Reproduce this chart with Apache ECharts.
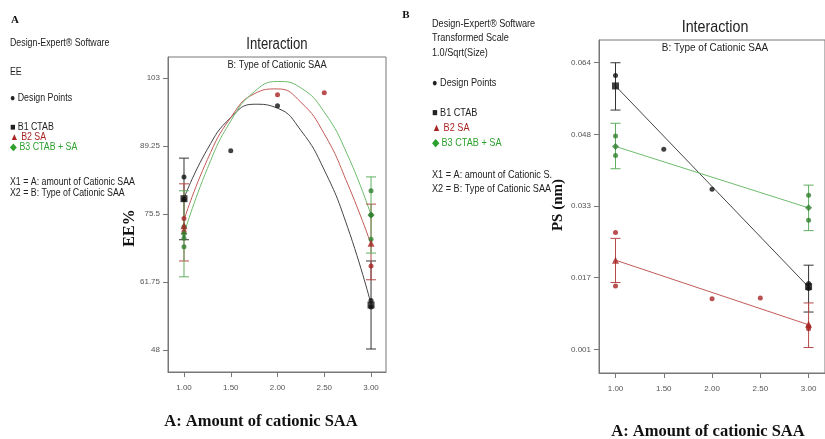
<!DOCTYPE html>
<html>
<head>
<meta charset="utf-8">
<title>Interaction plots</title>
<script src="https://cdn.jsdelivr.net/npm/echarts@6/dist/echarts.min.js"></script>
<style>
  html, body { margin: 0; padding: 0; background: #fff; }
  #chart { width: 825px; height: 439px; }
</style>
</head>
<body>
<div id="chart"></div>
<script>
// ---- data ----
const xTicks = [1, 1.5, 2, 2.5, 3];
const eeTicks = [48, 61.75, 75.5, 89.25, 103];
const psTicks = [0.001, 0.01675, 0.0325, 0.04825, 0.064];

// panel A (EE%) fitted curves, sampled at these x
const curveX = [1, 1.25, 1.5, 1.75, 2, 2.25, 2.5, 2.75, 3];
const eeCtabCurve = [78.7, 88.6, 95.0, 97.7, 96.9, 92.4, 84.4, 72.8, 57.3];
const eeSaCurve = [74.3, 86.5, 95.0, 99.8, 100.8, 98.1, 91.7, 81.6, 69.4];
const eeMixCurve = [71.5, 84.7, 94.3, 100.2, 102.3, 101.0, 96.1, 87.4, 75.3];

// panel A design points
const eeCtabPts = [[1, 83.0], [1, 78.5], [1.5, 88.3], [2, 97.4], [3, 58.0], [3, 56.7]];
const eeSaPts = [[1, 74.6], [1, 71.9], [2, 99.6], [2.5, 100.0], [3, 65.0]];
const eeMixPts = [[1, 72.9], [1, 70.6], [1, 68.9], [3, 80.2], [3, 75.3], [3, 70.4]];

// panel A predicted values and LSD bars [x, low, high]
const eeCtabPred = [[1, 78.6], [3, 57.1]];
const eeSaPred = [[1, 73.1], [3, 69.6]];
const eeMixPred = [[1, 71.5], [3, 75.3]];
const eeCtabBars = [[1, 70.3, 86.8], [3, 48.2, 66.0]];
const eeSaBars = [[1, 66.0, 81.6], [3, 62.2, 77.5]];
const eeMixBars = [[1, 62.8, 80.2], [3, 67.6, 83.0]];

// panel B (PS) fitted lines
const psLineX = [1, 3];
const psCtabLine = [0.0589, 0.0147];
const psSaLine = [0.0206, 0.0064];
const psMixLine = [0.0456, 0.0321];

// panel B design points
const psCtabPts = [[1, 0.0612], [1.5, 0.0450], [2, 0.0362], [3, 0.0155], [3, 0.0144]];
const psSaPts = [[1, 0.0267], [1, 0.0149], [2, 0.0121], [2.5, 0.0123], [3, 0.0060], [3, 0.0055]];
const psMixPts = [[1, 0.0479], [1, 0.0436], [3, 0.0349], [3, 0.0294]];

const psCtabPred = [[1, 0.0589], [3, 0.0148]];
const psSaPred = [[1, 0.0206], [3, 0.0065]];
const psMixPred = [[1, 0.0456], [3, 0.0321]];
const psCtabBars = [[1, 0.0536, 0.0640], [3, 0.0092, 0.0195]];
const psSaBars = [[1, 0.0157, 0.0254], [3, 0.0014, 0.0112]];
const psMixBars = [[1, 0.0407, 0.0507], [3, 0.0271, 0.0371]];

// ---- styles ----
const sans = "'Liberation Sans', Arial, sans-serif";
const serif = "'Liberation Serif', 'Times New Roman', serif";
const black = "#111111", red = "#a82424", green = "#2f7f2f";
const blackLine = "#444444", redLine = "#c05a57", greenLine = "#6dbb6d";
const blackBar = "#333333", redBar = "#b54a48", greenBar = "#5fae5f";

const chart = echarts.init(document.getElementById("chart"));

function errorBar(params, api) {
  const x = api.value(0);
  const top = api.coord([x, api.value(2)]);
  const bot = api.coord([x, api.value(1)]);
  const w = 5;
  const style = { stroke: api.visual("color"), lineWidth: 1 };
  return {
    type: "group",
    children: [
      { type: "line", shape: { x1: top[0], y1: top[1], x2: bot[0], y2: bot[1] }, style },
      { type: "line", shape: { x1: top[0] - w, y1: top[1], x2: top[0] + w, y2: top[1] }, style },
      { type: "line", shape: { x1: bot[0] - w, y1: bot[1], x2: bot[0] + w, y2: bot[1] }, style }
    ]
  };
}

function xAxis(idx, max) {
  return {
    type: "value", gridIndex: idx, min: 0.829, max: max,
    axisLine: { show: true, onZero: false, lineStyle: { color: "#777" } },
    axisTick: { show: true, length: 5, customValues: xTicks, lineStyle: { color: "#777" } },
    axisLabel: { customValues: xTicks, margin: 12, fontSize: 8, color: "#555", fontFamily: sans,
      formatter: v => v.toFixed(2) },
    splitLine: { show: false }
  };
}

function yAxis(idx, min, max, ticks, fmt) {
  return {
    type: "value", gridIndex: idx, min: min, max: max,
    axisLine: { show: true, onZero: false, lineStyle: { color: "#777" } },
    axisTick: { show: true, length: 5, customValues: ticks, lineStyle: { color: "#777" } },
    axisLabel: { customValues: ticks, margin: 8, fontSize: 8, color: "#555", fontFamily: sans,
      formatter: fmt },
    splitLine: { show: false }
  };
}

function pts(xs, ys) {
  return xs.map((x, i) => [x, ys[i]]);
}

function addPanel(series, idx, curves, points, preds, bars, smooth) {
  const colors = [black, red, green];
  const lineColors = [blackLine, redLine, greenLine];
  const barColors = [blackBar, redBar, greenBar];
  const shapes = ["rect", "triangle", "diamond"];
  for (let k = 0; k < 3; k++) {
    series.push({
      type: "line", xAxisIndex: idx, yAxisIndex: idx, data: curves[k], smooth: smooth,
      symbol: "none", lineStyle: { color: lineColors[k], width: 1 }, silent: true, z: 2
    });
    series.push({
      type: "custom", xAxisIndex: idx, yAxisIndex: idx, data: bars[k], renderItem: errorBar,
      itemStyle: { color: barColors[k] }, encode: { x: 0, y: [1, 2] }, z: 3
    });
    series.push({
      type: "scatter", xAxisIndex: idx, yAxisIndex: idx, data: points[k], symbol: "circle",
      symbolSize: 5, itemStyle: { color: colors[k] }, z: 4
    });
    series.push({
      type: "scatter", xAxisIndex: idx, yAxisIndex: idx, data: preds[k], symbol: shapes[k],
      symbolSize: 7, itemStyle: { color: colors[k] }, z: 5
    });
  }
}

const series = [];
addPanel(series, 0,
  [pts(curveX, eeCtabCurve), pts(curveX, eeSaCurve), pts(curveX, eeMixCurve)],
  [eeCtabPts, eeSaPts, eeMixPts],
  [eeCtabPred, eeSaPred, eeMixPred],
  [eeCtabBars, eeSaBars, eeMixBars], true);
addPanel(series, 1,
  [pts(psLineX, psCtabLine), pts(psLineX, psSaLine), pts(psLineX, psMixLine)],
  [psCtabPts, psSaPts, psMixPts],
  [psCtabPred, psSaPred, psMixPred],
  [psCtabBars, psSaBars, psMixBars], false);

// condensed-looking text: squeeze horizontally around its anchor
function txt(x, y, text, size, color, sx, align) {
  return {
    type: "text", x: x, y: y, scaleX: sx || 0.88,
    style: { text: text, fontSize: size, fill: color || "#222", fontFamily: sans,
      align: align || "left", verticalAlign: "middle" }
  };
}

function bold(x, y, text, size, rot) {
  return {
    type: "text", x: x, y: y, rotation: rot || 0,
    style: { text: text, fontSize: size, fontWeight: "bold", fontFamily: serif, fill: "#111",
      align: "center", verticalAlign: "middle" }
  };
}

const bGreen = "#2ea02e";
const graphic = [
  // panel A side text
  bold(15, 20, "A", 11),
  txt(10, 43, "Design-Expert® Software", 10),
  txt(10, 72, "EE", 10),
  txt(10, 98, "● Design Points", 10),
  txt(10, 127, "■ B1 CTAB", 10),
  txt(10, 137, "▲ B2 SA", 10, red),
  txt(10, 147, "◆ B3 CTAB + SA", 10, bGreen),
  txt(10, 182, "X1 = A: amount of Cationic SAA", 10),
  txt(10, 193, "X2 = B: Type of Cationic SAA", 10),
  // panel B side text
  bold(406, 15, "B", 11),
  txt(432, 24, "Design-Expert® Software", 10.5, null, 0.87),
  txt(432, 38, "Transformed Scale", 10.5, null, 0.87),
  txt(432, 53, "1.0/Sqrt(Size)", 10.5, null, 0.87),
  txt(432, 83, "● Design Points", 10.5, null, 0.87),
  txt(432, 113, "■ B1 CTAB", 10.5, null, 0.87),
  txt(432, 128, "▲ B2 SA", 10.5, red, 0.87),
  txt(432, 143, "◆ B3 CTAB + SA", 10.5, bGreen, 0.87),
  txt(432, 175, "X1 = A: amount of Cationic S.", 10.5, null, 0.87),
  txt(432, 189, "X2 = B: Type of Cationic SAA", 10.5, null, 0.87),
  // titles
  txt(277, 45, "Interaction", 16, "#222", 0.82, "center"),
  txt(277, 65, "B: Type of Cationic SAA", 10, "#222", 0.93, "center"),
  txt(715, 27, "Interaction", 17, "#222", 0.84, "center"),
  txt(715, 48, "B: Type of Cationic SAA", 10.5, "#222", 0.95, "center"),
  // axis names
  bold(130, 228, "EE%", 16, Math.PI / 2),
  bold(558, 205, "PS (nm)", 15, Math.PI / 2),
  bold(261, 422, "A: Amount of cationic SAA", 16.5),
  bold(708, 432, "A: Amount of cationic SAA", 16.5)
];

const option = {
  animation: false,
  grid: [
    { left: 168, top: 57, width: 218, height: 315, show: true, borderColor: "#777", borderWidth: 1 },
    { left: 599, top: 40, width: 233, height: 333, show: true, borderColor: "#777", borderWidth: 1 }
  ],
  xAxis: [xAxis(0, 3.16), xAxis(1, 3.17)],
  yAxis: [
    yAxis(0, 43.55, 107.25, eeTicks, v => String(v)),
    yAxis(1, -0.0042, 0.069, psTicks, v => v.toFixed(3))
  ],
  series: series,
  graphic: graphic
};
chart.setOption(option);
</script>
</body>
</html>
